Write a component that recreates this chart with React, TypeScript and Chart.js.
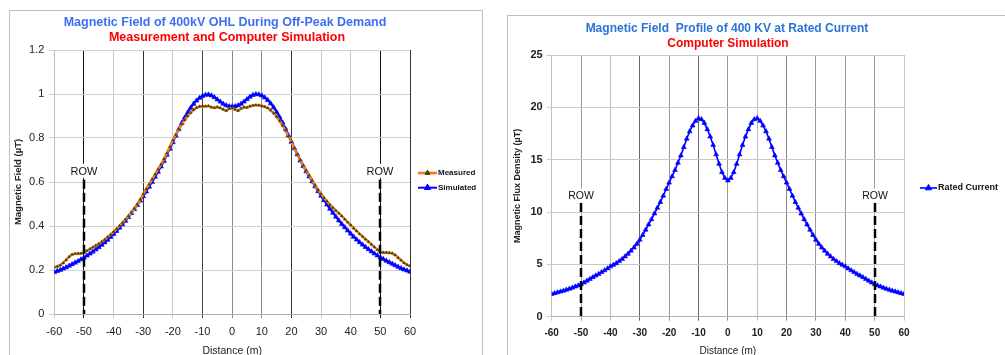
import React, { useEffect, useRef } from "react";
import { Chart, registerables } from "chart.js";
Chart.register(...registerables);

// ---------- DATA ----------
const distance = [
  -60, -59, -58, -57, -56, -55, -54, -53, -52, -51,
  -50, -49, -48, -47, -46, -45, -44, -43, -42, -41,
  -40, -39, -38, -37, -36, -35, -34, -33, -32, -31,
  -30, -29, -28, -27, -26, -25, -24, -23, -22, -21,
  -20, -19, -18, -17, -16, -15, -14, -13, -12, -11,
  -10, -9, -8, -7, -6, -5, -4, -3, -2, -1,
  0,
  1, 2, 3, 4, 5, 6, 7, 8, 9, 10,
  11, 12, 13, 14, 15, 16, 17, 18, 19, 20,
  21, 22, 23, 24, 25, 26, 27, 28, 29, 30,
  31, 32, 33, 34, 35, 36, 37, 38, 39, 40,
  41, 42, 43, 44, 45, 46, 47, 48, 49, 50,
  51, 52, 53, 54, 55, 56, 57, 58, 59, 60,
];

const measured = [
  0.212, 0.216, 0.222, 0.232, 0.246, 0.26, 0.271, 0.274, 0.275, 0.275,
  0.28, 0.287, 0.295, 0.303, 0.311, 0.319, 0.328, 0.338, 0.35, 0.361,
  0.374, 0.387, 0.401, 0.415, 0.43, 0.445, 0.461, 0.479, 0.498, 0.52,
  0.545, 0.568, 0.59, 0.612, 0.635, 0.658, 0.68, 0.705, 0.731, 0.76,
  0.79, 0.815, 0.84, 0.862, 0.882, 0.9, 0.915, 0.928, 0.938, 0.943,
  0.945, 0.944, 0.946, 0.94, 0.937, 0.941, 0.936, 0.93, 0.924, 0.933,
  0.936,
  0.93, 0.924, 0.934, 0.94, 0.939, 0.944, 0.948, 0.95, 0.949, 0.946,
  0.942, 0.936, 0.926, 0.913, 0.897, 0.878, 0.857, 0.834, 0.808, 0.782,
  0.753, 0.725, 0.7, 0.675, 0.652, 0.63, 0.607, 0.585, 0.565, 0.545,
  0.528, 0.512, 0.497, 0.483, 0.47, 0.458, 0.445, 0.431, 0.417, 0.404,
  0.39, 0.377, 0.364, 0.352, 0.34, 0.328, 0.316, 0.304, 0.292, 0.282,
  0.279, 0.279, 0.278, 0.276, 0.268, 0.256, 0.244, 0.232, 0.224, 0.218,
];

const simulated = [
  0.19, 0.195, 0.2, 0.206, 0.212, 0.219, 0.226, 0.233, 0.24, 0.248,
  0.256, 0.265, 0.274, 0.283, 0.293, 0.303, 0.314, 0.325, 0.337, 0.35,
  0.363, 0.377, 0.392, 0.407, 0.423, 0.44, 0.458, 0.476, 0.495, 0.515,
  0.535, 0.556, 0.578, 0.6, 0.623, 0.646, 0.67, 0.695, 0.723, 0.751,
  0.78, 0.81, 0.84, 0.868, 0.893, 0.916, 0.937, 0.955, 0.97, 0.982,
  0.991, 0.996, 0.997, 0.993, 0.985, 0.975, 0.965, 0.955, 0.948, 0.944,
  0.943,
  0.944, 0.948, 0.955, 0.965, 0.976, 0.987, 0.995, 0.999, 0.998, 0.993,
  0.984, 0.972, 0.957, 0.939, 0.918, 0.895, 0.87, 0.842, 0.812, 0.782,
  0.753, 0.725, 0.697, 0.672, 0.648, 0.625, 0.602, 0.58, 0.558, 0.537,
  0.517, 0.497, 0.478, 0.46, 0.442, 0.425, 0.409, 0.394, 0.379, 0.365,
  0.351, 0.338, 0.326, 0.315, 0.304, 0.294, 0.284, 0.275, 0.266, 0.258,
  0.25, 0.242, 0.235, 0.228, 0.221, 0.214, 0.208, 0.202, 0.197, 0.192,
];

const ratedCurrent = [
  2.17, 2.24, 2.32, 2.4, 2.48, 2.57, 2.66, 2.76, 2.87, 2.98,
  3.1, 3.26, 3.43, 3.6, 3.77, 3.92, 4.08, 4.25, 4.42, 4.6,
  4.8, 4.95, 5.1, 5.3, 5.5, 5.75, 6.0, 6.3, 6.6, 6.95,
  7.35, 7.8, 8.3, 8.8, 9.3, 9.85, 10.4, 10.95, 11.55, 12.2,
  12.8, 13.4, 14.0, 14.7, 15.4, 16.2, 17.0, 17.7, 18.25, 18.7,
  18.95, 18.85, 18.5, 17.9, 17.2, 16.4, 15.5, 14.6, 13.8, 13.25,
  13.0,
  13.25, 13.8, 14.6, 15.5, 16.4, 17.2, 17.9, 18.5, 18.85, 18.95,
  18.7, 18.25, 17.7, 17.0, 16.2, 15.4, 14.7, 14.0, 13.4, 12.8,
  12.2, 11.55, 10.95, 10.4, 9.85, 9.3, 8.8, 8.3, 7.8, 7.35,
  6.95, 6.6, 6.3, 6.0, 5.75, 5.5, 5.3, 5.1, 4.95, 4.8,
  4.6, 4.42, 4.25, 4.08, 3.92, 3.77, 3.6, 3.43, 3.26, 3.1,
  2.98, 2.87, 2.76, 2.66, 2.57, 2.48, 2.4, 2.32, 2.24, 2.17,
];

const xTickValues = [-60, -50, -40, -30, -20, -10, 0, 10, 20, 30, 40, 50, 60];
const leftYTickValues = [0, 0.2, 0.4, 0.6, 0.8, 1, 1.2];
const rightYTickValues = [0, 5, 10, 15, 20, 25];
const rowDistances = [-50, 50];
const rowLabel = "ROW";

const leftTitle = "Magnetic Field of 400kV OHL During Off-Peak Demand";
const leftSubtitle = "Measurement and Computer Simulation";
const rightTitle = "Magnetic Field\u00a0 Profile of 400 KV at Rated Current";
const rightSubtitle = "Computer Simulation";
const leftYTitle = "Magnetic Field (\u00b5T)";
const rightYTitle = "Magnetic Flux Density (\u00b5T)";
const xTitle = "Distance (m)";
const leftSeriesNames = ["Measured", "Simulated"];
const rightSeriesNames = ["Rated Current"];

// ---------- STYLE ----------
const FONT = "'Liberation Sans', Arial, Helvetica, sans-serif";

const leftGridXColors: Record<string, string> = {
  "-60": "#c8c8c8", "-50": "#111111", "-40": "#c8c8c8", "-30": "#333333",
  "-20": "#c8c8c8", "-10": "#444444", "0": "#8a8a8a", "10": "#8a8a8a",
  "20": "#333333", "30": "#c8c8c8", "40": "#c8c8c8", "50": "#111111", "60": "#333333",
};
const rightGridXColors: Record<string, string> = {
  "-60": "#c8c8c8", "-50": "#999999", "-40": "#bbbbbb", "-30": "#666666",
  "-20": "#999999", "-10": "#666666", "0": "#999999", "10": "#bbbbbb",
  "20": "#888888", "30": "#999999", "40": "#999999", "50": "#999999", "60": "#c8c8c8",
};

function tri(ctx: CanvasRenderingContext2D, x: number, y: number, r: number) {
  ctx.beginPath();
  ctx.moveTo(x, y - r);
  ctx.lineTo(x + r * 0.866, y + r * 0.5);
  ctx.lineTo(x - r * 0.866, y + r * 0.5);
  ctx.closePath();
  ctx.fill();
  ctx.stroke();
}

function rowPlugin(topValue: number, labelGap: number, fontSize: number) {
  return {
    id: "rowMarkers",
    afterDatasetsDraw(chart: any) {
      const { ctx, scales } = chart;
      const x = scales.x;
      const y = scales.y;
      ctx.save();
      rowDistances.forEach((d) => {
        const px = Math.round(x.getPixelForValue(d));
        const pyTop = y.getPixelForValue(topValue);
        const pyBot = y.getPixelForValue(0);
        ctx.font = `${fontSize}px ${FONT}`;
        const w = ctx.measureText(rowLabel).width;
        const ly = pyTop - labelGap;
        ctx.fillStyle = "#ffffff";
        ctx.fillRect(px - w / 2 - 1, ly - 8, w + 2, 14);
        ctx.fillStyle = "#111111";
        ctx.textAlign = "center";
        ctx.textBaseline = "middle";
        ctx.fillText(rowLabel, px, ly);
        ctx.setLineDash([9, 4]);
        ctx.lineWidth = 2.5;
        ctx.strokeStyle = "#000000";
        ctx.beginPath();
        ctx.moveTo(px, pyTop);
        ctx.lineTo(px, pyBot);
        ctx.stroke();
      });
      ctx.restore();
    },
  };
}

function legendPlugin(x1: number, x2: number, ys: number[], fontSize: number) {
  return {
    id: "customLegend",
    afterDraw(chart: any) {
      const { ctx } = chart;
      ctx.save();
      chart.data.datasets.forEach((ds: any, i: number) => {
        const y = ys[i];
        ctx.setLineDash([]);
        ctx.strokeStyle = ds.borderColor;
        ctx.lineWidth = ds.borderWidth;
        ctx.beginPath();
        ctx.moveTo(x1, y);
        ctx.lineTo(x2, y);
        ctx.stroke();
        ctx.fillStyle = ds.pointBackgroundColor;
        ctx.strokeStyle = ds.pointBorderColor;
        ctx.lineWidth = 1;
        tri(ctx, (x1 + x2) / 2, y, ds.pointRadius + 0.8);
        ctx.fillStyle = "#111111";
        ctx.font = `bold ${fontSize}px ${FONT}`;
        ctx.textAlign = "left";
        ctx.textBaseline = "middle";
        ctx.fillText(ds.label, x2 + 1, y);
      });
      ctx.restore();
    },
  };
}

function fixedBox(size: number, key: "width" | "height") {
  return (s: any) => {
    s[key] = size;
  };
}

function leftConfig(): any {
  return {
    type: "scatter",
    data: {
      datasets: [
        {
          label: leftSeriesNames[0],
          data: distance.map((d, i) => ({ x: d, y: measured[i] })),
          showLine: true,
          borderColor: "#f47a20",
          borderWidth: 2.6,
          pointStyle: "triangle",
          pointRadius: 2,
          pointBackgroundColor: "#3d4a05",
          pointBorderColor: "#3d4a05",
          pointBorderWidth: 0,
          tension: 0,
        },
        {
          label: leftSeriesNames[1],
          data: distance.map((d, i) => ({ x: d, y: simulated[i] })),
          showLine: true,
          borderColor: "#0000ff",
          borderWidth: 2,
          pointStyle: "triangle",
          pointRadius: 2.8,
          pointBackgroundColor: "#0000ff",
          pointBorderColor: "#0000ff",
          pointBorderWidth: 0.6,
          tension: 0,
        },
      ],
    },
    options: {
      responsive: false,
      animation: false,
      layout: { padding: { left: 0, right: 73, top: 40, bottom: 0 } },
      plugins: { legend: { display: false }, title: { display: false }, tooltip: { enabled: false } },
      scales: {
        x: {
          type: "linear",
          min: -60,
          max: 60,
          afterBuildTicks: (s: any) => {
            s.ticks = xTickValues.map((v) => ({ value: v }));
          },
          afterFit: fixedBox(51, "height"),
          ticks: { color: "#222", font: { family: FONT, size: 11 }, padding: 7, maxRotation: 0 },
          grid: {
            color: (c: any) => leftGridXColors[String(c.tick?.value)] || "#c8c8c8",
            tickLength: 4,
          },
          border: { color: "#b0b0b0" },
          title: {
            display: true,
            text: xTitle,
            color: "#222",
            font: { family: FONT, size: 10.5 },
            padding: { top: 0, bottom: 7.7 },
          },
        },
        y: {
          min: 0,
          max: 1.2,
          afterBuildTicks: (s: any) => {
            s.ticks = leftYTickValues.map((v) => ({ value: v }));
          },
          afterFit: fixedBox(45.3, "width"),
          ticks: {
            color: "#222",
            font: { family: FONT, size: 11 },
            padding: 5,
            callback: (v: any) => String(v),
          },
          grid: { color: "#d0d0d0", tickLength: 5 },
          border: { color: "#c0c0c0" },
          title: {
            display: true,
            text: leftYTitle,
            color: "#222",
            font: { family: FONT, size: 9.5, weight: "bold" },
            padding: { top: 3.4, bottom: 0 },
          },
        },
      },
    },
    plugins: [rowPlugin(0.61, 8, 11), legendPlugin(409, 428, [163, 177.7], 8)],
  };
}

function rightConfig(): any {
  return {
    type: "scatter",
    data: {
      datasets: [
        {
          label: rightSeriesNames[0],
          data: distance.map((d, i) => ({ x: d, y: ratedCurrent[i] })),
          showLine: true,
          borderColor: "#0000ff",
          borderWidth: 1.6,
          pointStyle: "triangle",
          pointRadius: 2.8,
          pointBackgroundColor: "#0000ff",
          pointBorderColor: "#0000ff",
          pointBorderWidth: 0.6,
          tension: 0,
        },
      ],
    },
    options: {
      responsive: false,
      animation: false,
      layout: { padding: { left: 0, right: 101, top: 40, bottom: 0 } },
      plugins: { legend: { display: false }, title: { display: false }, tooltip: { enabled: false } },
      scales: {
        x: {
          type: "linear",
          min: -60,
          max: 60,
          afterBuildTicks: (s: any) => {
            s.ticks = xTickValues.map((v) => ({ value: v }));
          },
          afterFit: fixedBox(53.3, "height"),
          ticks: { color: "#222", font: { family: FONT, size: 10, weight: "bold" }, padding: 6.3, maxRotation: 0 },
          grid: {
            color: (c: any) => rightGridXColors[String(c.tick?.value)] || "#c8c8c8",
            tickLength: 4,
          },
          border: { color: "#b0b0b0" },
          title: {
            display: true,
            text: xTitle,
            color: "#222",
            font: { family: FONT, size: 10 },
            padding: { top: 0, bottom: 13 },
          },
        },
        y: {
          min: 0,
          max: 25,
          afterBuildTicks: (s: any) => {
            s.ticks = rightYTickValues.map((v) => ({ value: v }));
          },
          afterFit: fixedBox(45.7, "width"),
          ticks: {
            color: "#222",
            font: { family: FONT, size: 11, weight: "bold" },
            padding: 4,
            callback: (v: any) => String(v),
          },
          grid: { color: "#c8c8c8", tickLength: 5 },
          border: { color: "#c0c0c0" },
          title: {
            display: true,
            text: rightYTitle,
            color: "#222",
            font: { family: FONT, size: 9, weight: "bold" },
            padding: { top: 6.6, bottom: 0 },
          },
        },
      },
    },
    plugins: [rowPlugin(10.86, 6.5, 10.5), legendPlugin(414, 431, [173], 9)],
  };
}

function ChartCanvas(props: { make: () => any; left: number; top: number; width: number; height: number }) {
  const ref = useRef<HTMLCanvasElement>(null);
  useEffect(() => {
    const chart = new Chart(ref.current as HTMLCanvasElement, props.make());
    return () => chart.destroy();
  }, []);
  return (
    <canvas
      ref={ref}
      width={props.width}
      height={props.height}
      style={{
        position: "absolute",
        left: props.left,
        top: props.top,
        width: props.width,
        height: props.height,
      }}
    />
  );
}

const titleStyle = (left: number, top: number, width: number, color: string, size: number): React.CSSProperties => ({
  position: "absolute",
  left,
  top,
  width,
  textAlign: "center",
  color,
  fontFamily: FONT,
  fontWeight: "bold",
  fontSize: size,
  lineHeight: "14px",
  whiteSpace: "nowrap",
});

export default function App() {
  return (
    <div
      style={{
        position: "fixed",
        left: 0,
        top: 0,
        width: 1005,
        height: 355,
        overflow: "hidden",
        background: "#ffffff",
      }}
    >
      <div
        style={{
          position: "absolute",
          left: 9,
          top: 10,
          width: 474,
          height: 400,
          border: "1px solid #bfbfbf",
          boxSizing: "border-box",
        }}
      />
      <div
        style={{
          position: "absolute",
          left: 507,
          top: 15,
          width: 520,
          height: 400,
          border: "1px solid #bfbfbf",
          boxSizing: "border-box",
        }}
      />
      <ChartCanvas make={leftConfig} left={9} top={10} width={474} height={355} />
      <ChartCanvas make={rightConfig} left={506} top={15} width={499} height={355} />
      <div style={titleStyle(0, 15, 450, "#3d6ff2", 12.5)}>{leftTitle}</div>
      <div style={titleStyle(0, 30, 454, "#ff0000", 12.5)}>{leftSubtitle}</div>
      <div style={titleStyle(527, 20.5, 400, "#2b74d6", 12)}>{rightTitle}</div>
      <div style={titleStyle(528, 35.5, 400, "#ff0000", 12)}>{rightSubtitle}</div>
    </div>
  );
}
